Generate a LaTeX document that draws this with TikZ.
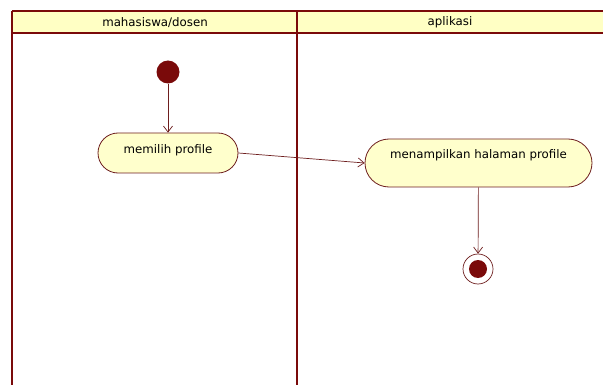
\documentclass[tikz,border=0pt]{standalone}
\usepackage{fontspec}
\setmainfont{DejaVu Sans}
\usetikzlibrary{arrows.meta,shapes.misc}
\definecolor{lane}{HTML}{7A0A0A}
\definecolor{hdr}{HTML}{FFFFC4}
\definecolor{act}{HTML}{FFFFCC}
\definecolor{edge}{HTML}{6E1E1E}
\tikzset{
  laneline/.style={draw=lane, line width=2.6pt},
  activity/.style={rounded rectangle, draw=edge, fill=act, line width=0.8pt,
    font=\fontsize{11.8}{13}\selectfont, inner sep=0pt},
  flow/.style={draw=edge, line width=0.7pt, -{Straight Barb[length=6pt,width=9pt]}},
  lanetitle/.style={font=\fontsize{11.8}{13}\selectfont, text=black},
}
\begin{document}
\begin{tikzpicture}[x=1pt,y=-1pt]
  \useasboundingbox[fill=white] (0,0) rectangle (603,385);
  % swimlane header band
  \fill[hdr] (12,11) rectangle (603,33);
  \draw[laneline] (12,11) -- (603,11);
  \draw[laneline] (12,33) -- (603,33);
  \draw[laneline] (12,11) -- (12,385);
  \draw[laneline] (297,11) -- (297,385);
  \node[lanetitle] (lane1) at (155,22.5) {mahasiswa/dosen};
  \node[lanetitle] (lane2) at (450,22.5) {aplikasi};

  % initial state
  \node[circle, fill=lane, minimum size=23pt, inner sep=0pt] (start) at (168,72) {};
  % activities
  \node[activity, minimum width=140pt, minimum height=40pt, text depth=8pt] (a1) at (168,153) {memilih profile};
  \node[activity, minimum width=227pt, minimum height=48pt, text depth=17pt] (a2) at (478.5,163) {menampilkan halaman profile};
  % final state
  \node[circle, draw=edge, line width=0.7pt, fill=white, minimum size=30pt, inner sep=0pt] (end) at (478,269) {};
  \node[circle, fill=lane, minimum size=18pt, inner sep=0pt] (endin) at (end.center) {};

  % control flows
  \draw[flow] (start) -- (a1);
  \draw[flow] (a1.east) -- (a2.west);
  \draw[flow] (a2) -- (end);
\end{tikzpicture}
\end{document}
